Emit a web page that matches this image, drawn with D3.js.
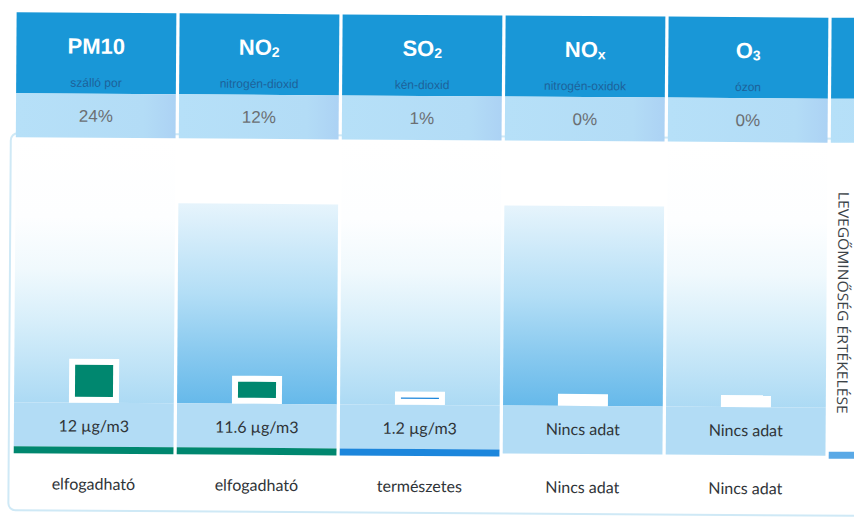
<!DOCTYPE html>
<html>
<head>
<meta charset="utf-8">
<script src="https://cdn.jsdelivr.net/npm/d3@7"></script>
<style>
  html, body { margin: 0; padding: 0; background: #fff; }
  svg { display: block; }
</style>
</head>
<body>
<svg id="chart" width="854" height="520"></svg>
<script>
// Pollutant columns
const pollutants   = ["PM10", "NO2", "SO2", "NOx", "O3"];
const formulaBase  = ["PM10", "NO", "SO", "NO", "O"];
const formulaSub   = ["", "2", "2", "x", "3"];
const fullNames    = ["szálló por", "nitrogén-dioxid", "kén-dioxid", "nitrogén-oxidok", "ózon"];
const sharePct     = [24, 12, 1, 0, 0];
const concentration = [12, 11.6, 1.2, null, null];
const ratings      = ["elfogadható", "elfogadható", "természetes", "Nincs adat", "Nincs adat"];
const ratingLevels = ["elfogadható", "természetes", "Nincs adat"];
const sideTitle    = "LEVEGŐMINŐSÉG ÉRTÉKELÉSE";

const svg = d3.select("#chart");
const W = 854, H = 520;

const rows = pollutants.map((p, i) => ({
  key: p, base: formulaBase[i], sub: formulaSub[i], name: fullNames[i],
  share: sharePct[i], conc: concentration[i], rating: ratings[i], i
}));

// layout
const headTop = 15, headMid = 96, headBot = 140;
const bandTop = 405, bandBot = 449, barH = 7;

const x = d3.scaleBand()
  .domain([...pollutants, "extra"])
  .range([15, 15 + 163 * 5.98])
  .paddingInner(0.02);
const bw = x.bandwidth();

const markerH = d3.scaleLinear().domain([0, 24]).range([0, 32]);
const ratingColor = d3.scaleOrdinal().domain(ratingLevels).range(["#00876f", "#1c86dc", "none"]);

const defs = svg.append("defs");

// vertical fades for the column bodies
const soft = defs.append("linearGradient").attr("id", "softFade")
  .attr("gradientUnits", "userSpaceOnUse").attr("x1", 0).attr("x2", 0).attr("y1", headBot).attr("y2", bandTop);
[[0, "#ffffff"], [0.3, "#fdfeff"], [0.5, "#f0f9fd"], [0.7, "#d6eefa"], [1, "#acdaf4"]]
  .forEach(([o, c]) => soft.append("stop").attr("offset", o).attr("stop-color", c));

const deep = defs.append("linearGradient").attr("id", "deepFade")
  .attr("gradientUnits", "userSpaceOnUse").attr("x1", 0).attr("x2", 0).attr("y1", 205).attr("y2", bandTop);
[[0, "#e6f4fc"], [0.45, "#b3def6"], [0.75, "#88c9ef"], [1, "#66b9ea"]]
  .forEach(([o, c]) => deep.append("stop").attr("offset", o).attr("stop-color", c));

const light = defs.append("linearGradient").attr("id", "lightBand")
  .attr("x1", 0).attr("x2", 1).attr("y1", 0).attr("y2", 0);
[[0, "#b6e0f8"], [0.8, "#b3dcf6"], [1, "#acd2f4"]]
  .forEach(([o, c]) => light.append("stop").attr("offset", o).attr("stop-color", c));

svg.append("rect").attr("width", W).attr("height", H).attr("fill", "#fff");

const g = svg.append("g").attr("transform", "rotate(0.38 427 260)");

// outer frame
g.append("rect")
  .attr("x", 10).attr("y", headBot - 4)
  .attr("width", 900).attr("height", 377)
  .attr("rx", 7)
  .attr("fill", "none").attr("stroke", "#cfe9f6").attr("stroke-width", 2);

// header blocks (all six columns)
const heads = g.selectAll("g.head").data(x.domain()).join("g").attr("class", "head");
heads.append("rect")
  .attr("x", d => x(d)).attr("y", headTop).attr("width", bw).attr("height", headMid - headTop)
  .attr("fill", "#1997d7");
heads.append("rect")
  .attr("x", d => x(d)).attr("y", headMid).attr("width", bw).attr("height", headBot - headMid)
  .attr("fill", "url(#lightBand)");

const col = g.selectAll("g.col").data(rows).join("g").attr("class", "col");

// column bodies
col.append("rect")
  .attr("x", d => x(d.key)).attr("y", d => d.i % 2 ? 205 : headBot + 3)
  .attr("width", bw).attr("height", d => bandTop - (d.i % 2 ? 205 : headBot + 3))
  .attr("fill", d => d.i % 2 ? "url(#deepFade)" : "url(#softFade)");

// value band
col.append("rect")
  .attr("x", d => x(d.key)).attr("y", bandTop)
  .attr("width", bw).attr("height", d => ratingColor(d.rating) === "none" ? bandBot - bandTop + 4 : bandBot - bandTop)
  .attr("fill", "#b2dcf5");

// rating bar
col.filter(d => ratingColor(d.rating) !== "none").append("rect")
  .attr("x", d => x(d.key)).attr("y", bandBot)
  .attr("width", bw).attr("height", barH)
  .attr("fill", d => ratingColor(d.rating));

// header texts
const cx = d => x(d.key) + bw / 2;
const title = col.append("text")
  .attr("x", cx).attr("y", 56)
  .attr("text-anchor", "middle")
  .attr("font-family", "'Liberation Sans', Arial, sans-serif")
  .attr("font-weight", "bold").attr("font-size", 22).attr("fill", "#fff");
title.append("tspan").text(d => d.base);
title.append("tspan").attr("font-size", 14).attr("dy", 2).text(d => d.sub);

col.append("text")
  .attr("x", cx).attr("y", 89)
  .attr("text-anchor", "middle")
  .attr("font-family", "'Liberation Sans', Arial, sans-serif")
  .attr("font-size", 12).attr("fill", "#1d629a")
  .text(d => d.name);

col.append("text")
  .attr("x", cx).attr("y", 124)
  .attr("text-anchor", "middle")
  .attr("font-family", "'Liberation Sans', Arial, sans-serif")
  .attr("font-size", 17).attr("fill", "#6b6f73")
  .text(d => d.share + "%");

// markers: white frame with a bar sized by share
const pad = 6, innerW = 38;
col.append("rect")
  .attr("x", d => cx(d) - innerW / 2 - pad)
  .attr("y", d => bandTop - markerH(d.share) - 2 * pad)
  .attr("width", innerW + 2 * pad)
  .attr("height", d => markerH(d.share) + 2 * pad)
  .attr("fill", "#fff");
col.filter(d => d.share > 0).append("rect")
  .attr("x", d => cx(d) - innerW / 2)
  .attr("y", d => bandTop - pad - markerH(d.share))
  .attr("width", innerW)
  .attr("height", d => markerH(d.share))
  .attr("fill", d => ratingColor(d.rating));

// concentration
col.append("text")
  .attr("x", cx).attr("y", 434)
  .attr("text-anchor", "middle")
  .attr("font-family", "Lato, 'Open Sans', sans-serif")
  .attr("font-size", 16).attr("fill", "#2f3438")
  .text(d => d.conc == null ? "Nincs adat" : d.conc + " µg/m3");

// rating label
col.append("text")
  .attr("x", cx).attr("y", 492)
  .attr("text-anchor", "middle")
  .attr("font-family", "Lato, 'Open Sans', sans-serif")
  .attr("font-size", 16).attr("fill", "#2f3438")
  .text(d => d.rating);

// side column
const sx = x("extra");
g.append("rect").attr("x", sx).attr("y", headBot + 3).attr("width", 60).attr("height", bandBot - headBot)
  .attr("fill", "#fff");
g.append("rect").attr("x", sx).attr("y", bandBot).attr("width", 60).attr("height", barH)
  .attr("fill", "#5aa9e6");
g.append("text")
  .attr("transform", `translate(${sx + 8},${300}) rotate(90)`)
  .attr("text-anchor", "middle")
  .attr("font-family", "'Open Sans', sans-serif")
  .attr("font-size", 14.5).attr("fill", "#3c4348")
  .attr("textLength", 222).attr("lengthAdjust", "spacingAndGlyphs")
  .text(sideTitle);
</script>
</body>
</html>
